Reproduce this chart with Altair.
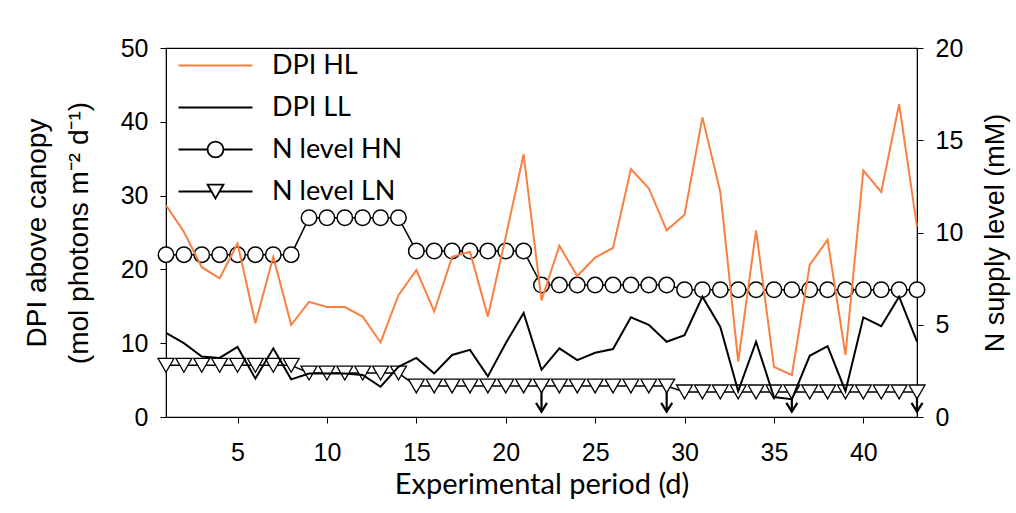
import altair as alt
import pandas as pd
import numpy as np

# ---- data ----
days = list(range(1, 44))
dpi_hl = [28.7, 25.1, 20.3, 18.8, 23.5, 12.7, 21.7, 12.5, 15.6, 14.9,
          14.9, 13.6, 10.1, 16.5, 19.9, 14.3, 21.7, 22.4, 13.6, 24.4,
          35.6, 15.8, 23.2, 19.1, 21.6, 22.9, 33.6, 31.0, 25.3, 27.4,
          40.6, 30.5, 7.5, 25.3, 6.8, 5.7, 20.6, 24.0, 8.4, 33.4,
          30.5, 42.4, 25.8]
dpi_ll = [11.4, 10.0, 8.2, 8.0, 9.5, 5.2, 9.3, 5.1, 5.9, 5.9,
          5.9, 5.7, 4.1, 6.8, 8.0, 5.9, 8.4, 9.1, 5.5, 10.0,
          14.1, 6.4, 9.3, 7.7, 8.7, 9.2, 13.5, 12.5, 10.2, 11.1,
          16.3, 12.2, 3.5, 10.2, 2.7, 2.4, 8.3, 9.6, 3.5, 13.5,
          12.3, 16.3, 10.2]
n_hn = [8.8, 8.8, 8.8, 8.8, 8.8, 8.8, 8.8, 8.8,
        10.8, 10.8, 10.8, 10.8, 10.8, 10.8,
        9.0, 9.0, 9.0, 9.0, 9.0, 9.0, 9.0,
        7.15, 7.15, 7.15, 7.15, 7.15, 7.15, 7.15, 7.15,
        6.9, 6.9, 6.9, 6.9, 6.9, 6.9, 6.9, 6.9, 6.9, 6.9, 6.9, 6.9, 6.9, 6.9]
n_ln = [2.8, 2.8, 2.8, 2.8, 2.8, 2.8, 2.8, 2.8,
        2.38, 2.38, 2.38, 2.38, 2.38, 2.38,
        1.68, 1.68, 1.68, 1.68, 1.68, 1.68, 1.68, 1.68, 1.68, 1.68, 1.68, 1.68, 1.68, 1.68, 1.68,
        1.36, 1.36, 1.36, 1.36, 1.36, 1.36, 1.36, 1.36, 1.36, 1.36, 1.36, 1.36, 1.36, 1.36]
arrow_days = [22, 29, 36, 43]
arrow_top = [1.36, 1.36, 1.36, 1.36]
arrow_tip = [0.29, 0.29, 0.29, 0.29]

series = ["DPI HL", "DPI LL", "N level HN", "N level LN"]
x_ticks = [5, 10, 15, 20, 25, 30, 35, 40]
left_ticks = [0, 10, 20, 30, 40, 50]
right_ticks = [0, 5, 10, 15, 20]

ORANGE = "#F98040"
TICK_FONT = "Liberation Sans"
CAL_FONT = "Lato"

df = pd.DataFrame({"day": days, "hl": dpi_hl, "ll": dpi_ll, "hn": n_hn, "ln": n_ln})
arrows = pd.DataFrame({"day": arrow_days, "top": arrow_top, "tip": arrow_tip})
legend_df = pd.DataFrame({"day": [np.nan] * 4, "hl": [np.nan] * 4, "series": series})

x_enc = alt.X("day:Q",
              scale=alt.Scale(domain=[1, 43], nice=False, zero=False),
              axis=alt.Axis(title="Experimental period (d)", values=x_ticks, grid=False,
                            tickSize=6, tickColor="black", domainColor="black",
                            labelFont=TICK_FONT, labelFontSize=25, labelColor="black",
                            labelPadding=17, titleFont=CAL_FONT, titleFontSize=29,
                            titleFontWeight="normal", titleColor="black", titlePadding=5))

left_axis = alt.Axis(title=["DPI above canopy", "(mol photons m⁻² d⁻¹)"], orient="left",
                     values=left_ticks, grid=False, tickSize=6, tickColor="black",
                     domainColor="black", labelFont=TICK_FONT, labelFontSize=25,
                     labelColor="black", labelPadding=12, titleFont=TICK_FONT,
                     titleFontSize=28, titleFontWeight="normal", titleColor="black",
                     titleLineHeight=42, titlePadding=27)
right_axis = alt.Axis(title="N supply level (mM)", orient="right", values=right_ticks,
                      grid=False, tickSize=6, tickColor="black", domainColor="black",
                      labelFont=TICK_FONT, labelFontSize=25, labelColor="black",
                      labelPadding=12, titleFont=TICK_FONT, titleFontSize=27,
                      titleFontWeight="normal", titleColor="black", titleAngle=270,
                      titleBaseline="top", titlePadding=20)

lscale = alt.Scale(domain=[0, 50], nice=False)
rscale = alt.Scale(domain=[0, 20], nice=False)

base = alt.Chart(df)

hn_line = base.mark_line(color="black", strokeWidth=1.5).encode(
    x=x_enc, y=alt.Y("hn:Q", scale=rscale, axis=right_axis))
hn_pts = base.mark_point(shape="circle", filled=True, fill="white", stroke="black",
                         strokeWidth=1.5, size=240, opacity=1).encode(
    x=x_enc, y=alt.Y("hn:Q", scale=rscale, axis=right_axis))
ln_line = base.mark_line(color="black", strokeWidth=1.5).encode(
    x=x_enc, y=alt.Y("ln:Q", scale=rscale, axis=right_axis))
ln_pts = base.mark_point(shape="triangle-down", filled=True, fill="white", stroke="black",
                         strokeWidth=1.3, size=256, opacity=1).encode(
    x=x_enc, y=alt.Y("ln:Q", scale=rscale, axis=right_axis))
arr_rule = alt.Chart(arrows).mark_rule(color="black", strokeWidth=2.2).encode(
    x=x_enc, y=alt.Y("top:Q", scale=rscale, axis=right_axis), y2="tip:Q")
arr_head = alt.Chart(arrows).mark_point(shape="M-1,-1.6L0,0L1,-1.6", filled=False,
                                        stroke="black", strokeWidth=2.2, size=121,
                                        opacity=1).encode(
    x=x_enc, y=alt.Y("tip:Q", scale=rscale, axis=right_axis))

n_layer = alt.layer(hn_line, ln_line, arr_rule, arr_head, hn_pts, ln_pts)

hl_line = base.mark_line(color=ORANGE, strokeWidth=2).encode(
    x=x_enc, y=alt.Y("hl:Q", scale=lscale, axis=left_axis))
ll_line = base.mark_line(color="black", strokeWidth=2).encode(
    x=x_enc, y=alt.Y("ll:Q", scale=lscale, axis=left_axis))

# legend symbols: line through marker (custom paths)
p_line = "M-2,0L2,0"
p_circ = ("M-2,0L-0.43,0M0.43,0L2,0M-0.43,0A0.43,0.43 0 1,0 0.43,0"
          "A0.43,0.43 0 1,0 -0.43,0Z")
p_tri = "M-2,0L-0.215,0M0.215,0L2,0M-0.43,-0.375L0.43,-0.375L0,0.375Z"
leg = alt.Legend(orient="none", legendX=30, legendY=-2, title=None, labelFont=CAL_FONT,
                 labelFontSize=27, labelColor="black", labelOffset=37, rowPadding=9,
                 symbolSize=1369, symbolStrokeWidth=1.8, padding=0, labelLimit=400)
legend_layer = alt.Chart(legend_df).mark_point(filled=True, fill="white", opacity=1,
                                               strokeWidth=1.8).encode(
    x=x_enc, y=alt.Y("hl:Q", scale=lscale, axis=left_axis),
    stroke=alt.Stroke("series:N", scale=alt.Scale(domain=series,
                      range=[ORANGE, "black", "black", "black"]), legend=leg),
    shape=alt.Shape("series:N", scale=alt.Scale(domain=series,
                    range=[p_line, p_line, p_circ, p_tri]), legend=leg))

dpi_layer = alt.layer(hl_line, ll_line, legend_layer)

chart = alt.layer(n_layer, dpi_layer).resolve_scale(y="independent").properties(
    width=751, height=369,
    autosize=alt.AutoSizeParams(type="none"),
    padding={"left": 166, "top": 48, "right": 98, "bottom": 96},
    background="white",
).configure_view(stroke="black", strokeWidth=1.2)

chart.save("out.html", embed_options={"renderer": "svg", "actions": False})
